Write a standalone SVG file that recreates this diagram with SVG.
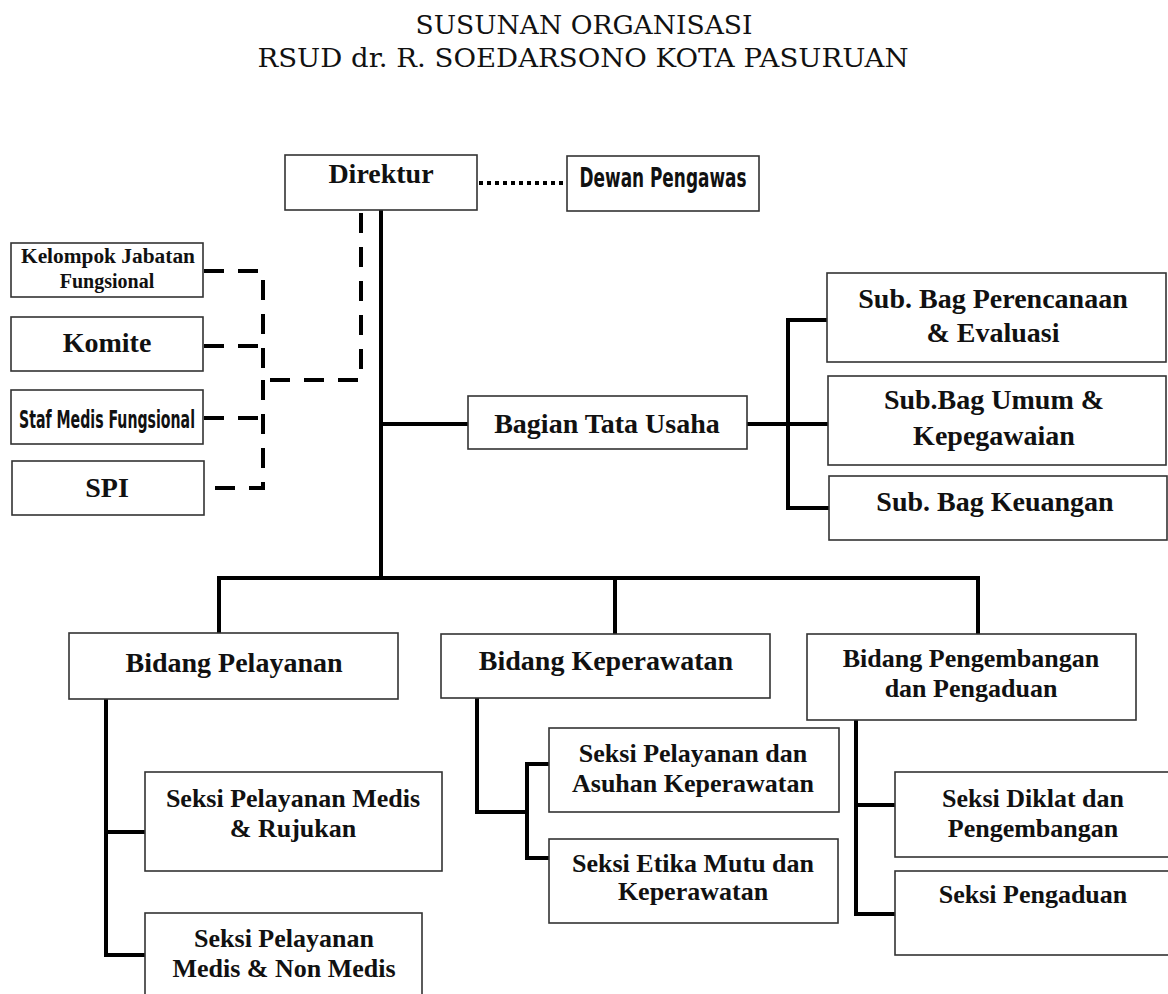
<svg xmlns="http://www.w3.org/2000/svg" width="1168" height="994" viewBox="0 0 1168 994">
<style>
.bx{fill:#fff;stroke:#333;stroke-width:1.6}
.t{font-family:"Liberation Serif","Times New Roman",serif;font-weight:bold;fill:#111;text-anchor:middle}
.l{font-size:28px}
.m{font-size:26px}
.c{font-family:"DejaVu Sans Condensed","DejaVu Sans",sans-serif;font-weight:bold;fill:#111;text-anchor:middle}
.title{font-family:"DejaVu Serif","Liberation Serif",serif;fill:#111;text-anchor:middle;font-size:26px}
.ln{fill:none;stroke:#000;stroke-width:4;stroke-linecap:square}
.ds{fill:none;stroke:#000;stroke-width:4;stroke-dasharray:20,14}
.dt{fill:none;stroke:#000;stroke-width:4;stroke-dasharray:4,4}
</style>
<rect width="1168" height="994" fill="#fff"/>
<g id="title">
<text class="title" x="584" y="34" textLength="337" lengthAdjust="spacingAndGlyphs">SUSUNAN ORGANISASI</text>
<text class="title" x="583" y="67" textLength="651" lengthAdjust="spacingAndGlyphs">RSUD dr. R. SOEDARSONO KOTA PASURUAN</text>
</g>
<g id="connectors">
<line class="dt" x1="479" y1="183" x2="567" y2="183"/>
<path class="ln" d="M381 210V578"/>
<path class="ds" d="M361 213V380H263"/>
<path class="ds" d="M204 271H263V368"/>
<path class="ds" d="M204 346H263"/>
<path class="ds" d="M263 380V488H204"/>
<path class="ds" d="M204 418H263"/>
<path class="ln" d="M381 424H468"/>
<path class="ln" d="M747 424H788"/>
<path class="ln" d="M827 320H788V508H829"/>
<path class="ln" d="M788 424H828"/>
<path class="ln" d="M219 633V578H978V634"/>
<path class="ln" d="M615 578V634"/>
<path class="ln" d="M106 699V955H145"/>
<path class="ln" d="M106 832H145"/>
<path class="ln" d="M477 698V812H527"/>
<path class="ln" d="M549 764H527V858H549"/>
<path class="ln" d="M856 720V914H895"/>
<path class="ln" d="M856 805H895"/>
<line x1="643" y1="772" x2="693" y2="772" stroke="#222" stroke-width="1"/>
</g>
<g id="direktur"><rect class="bx" x="285" y="155" width="192" height="55"/><text class="t l" x="381" y="183">Direktur</text></g>
<g id="dewan"><rect class="bx" x="567" y="156" width="192" height="55"/><text class="c" x="663" y="187" font-size="26" textLength="167" lengthAdjust="spacingAndGlyphs">Dewan Pengawas</text></g>
<g id="kelompok"><rect class="bx" x="11" y="243" width="192" height="54"/><text class="t" x="108" y="263" font-size="20" textLength="174" lengthAdjust="spacingAndGlyphs">Kelompok Jabatan</text><text class="t" x="107" y="288" font-size="20">Fungsional</text></g>
<g id="komite"><rect class="bx" x="11" y="317" width="192" height="54"/><text class="t l" x="107" y="352">Komite</text></g>
<g id="staf"><rect class="bx" x="11" y="390" width="192" height="54"/><text class="c" x="107" y="428" font-size="25" textLength="176" lengthAdjust="spacingAndGlyphs">Staf Medis Fungsional</text></g>
<g id="spi"><rect class="bx" x="12" y="461" width="192" height="54"/><text class="t l" x="107" y="497">SPI</text></g>
<g id="tatausaha"><rect class="bx" x="468" y="396" width="279" height="53"/><text class="t l" x="607" y="433">Bagian Tata Usaha</text></g>
<g id="perencanaan"><rect class="bx" x="827" y="273" width="339" height="89"/><text class="t l" x="993" y="308">Sub. Bag Perencanaan</text><text class="t l" x="993" y="342">&amp; Evaluasi</text></g>
<g id="umum"><rect class="bx" x="828" y="376" width="338" height="89"/><text class="t l" x="994" y="409">Sub.Bag Umum &amp;</text><text class="t l" x="994" y="445">Kepegawaian</text></g>
<g id="keuangan"><rect class="bx" x="829" y="476" width="338" height="64"/><text class="t l" x="995" y="511">Sub. Bag Keuangan</text></g>
<g id="pelayanan"><rect class="bx" x="69" y="633" width="329" height="66"/><text class="t l" x="234" y="672">Bidang Pelayanan</text></g>
<g id="keperawatan"><rect class="bx" x="441" y="634" width="329" height="64"/><text class="t l" x="606" y="670">Bidang Keperawatan</text></g>
<g id="pengembangan"><rect class="bx" x="807" y="634" width="329" height="86"/><text class="t m" x="971" y="667">Bidang Pengembangan</text><text class="t m" x="971" y="697">dan Pengaduan</text></g>
<g id="rujukan"><rect class="bx" x="145" y="772" width="297" height="99"/><text class="t m" x="293" y="807">Seksi Pelayanan Medis</text><text class="t m" x="293" y="837">&amp; Rujukan</text></g>
<g id="nonmedis"><rect class="bx" x="145" y="913" width="277" height="90"/><text class="t m" x="284" y="947">Seksi Pelayanan</text><text class="t m" x="284" y="977">Medis &amp; Non Medis</text></g>
<g id="asuhan"><rect class="bx" x="549" y="728" width="290" height="84"/><text class="t m" x="693" y="762">Seksi Pelayanan dan</text><text class="t m" x="693" y="792">Asuhan Keperawatan</text></g>
<g id="etika"><rect class="bx" x="549" y="839" width="289" height="84"/><text class="t m" x="693" y="872">Seksi Etika Mutu dan</text><text class="t m" x="693" y="900">Keperawatan</text></g>
<g id="diklat"><rect class="bx" x="895" y="772" width="280" height="85"/><text class="t m" x="1033" y="807">Seksi Diklat dan</text><text class="t m" x="1033" y="837">Pengembangan</text></g>
<g id="pengaduan"><rect class="bx" x="895" y="871" width="280" height="84"/><text class="t m" x="1033" y="903">Seksi Pengaduan</text></g>
</svg>
